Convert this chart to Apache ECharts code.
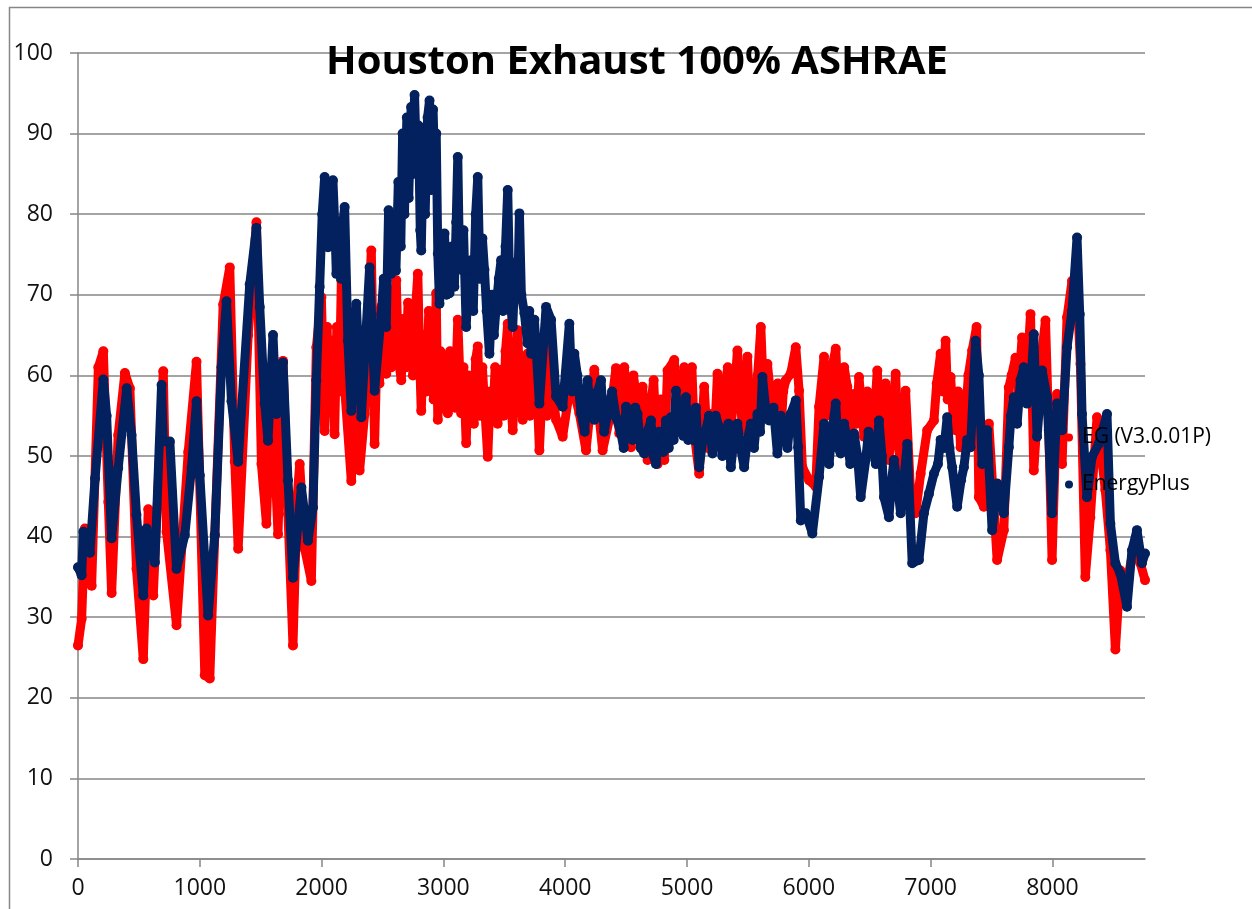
<!DOCTYPE html>
<html>
<head>
<meta charset="utf-8">
<script src="https://cdn.jsdelivr.net/npm/echarts@6/dist/echarts.min.js"></script>
<style>html,body{margin:0;padding:0;background:#fff}#c{width:1252px;height:909px}</style>
</head>
<body>
<div id="c"></div>
<script>
const TITLE = 'Houston Exhaust 100% ASHRAE';
const SERIES_NAMES = ['EG (V3.0.01P)', 'EnergyPlus'];
const X_TICKS = [0, 1000, 2000, 3000, 4000, 5000, 6000, 7000, 8000];

// [hour, value] readings for EG (V3.0.01P)
const EG_POINTS = [[0,26.5],[30,29.8],[57,41],[112,33.9],[167,61],[208,63],[249,44.3],[276,33],[330,52.6],[385,60.3],[426,58.4],[480,36],[536,24.8],[577,43.4],[618,32.7],[700,60.5],[727,40.6],[809,29],[905,50.5],[973,61.7],[1041,22.8],[1082,22.4],[1123,40.2],[1192,68.8],[1246,73.4],[1287,49.3],[1315,38.5],[1397,65],[1465,79],[1506,49],[1547,41.6],[1588,59.4],[1642,40.3],[1683,61.8],[1724,42.8],[1765,26.5],[1800,45],[1820,49],[1861,38.5],[1916,34.5],[1957,63.5],[1998,69.7],[2025,53.1],[2045,66],[2060,58],[2080,64.3],[2107,52.7],[2125,66],[2145,58],[2162,71.8],[2189,58.5],[2244,46.9],[2271,57.3],[2312,48.2],[2353,55.2],[2408,75.5],[2435,51.5],[2460,66],[2475,59],[2490,68.5],[2510,61],[2531,60.2],[2550,68],[2570,61],[2590,69],[2613,71.8],[2630,62],[2654,59.4],[2670,67],[2690,61],[2710,69],[2736,66.8],[2750,60],[2770,68],[2790,72.6],[2805,62],[2818,55.6],[2840,65],[2860,58],[2880,68],[2900,64.3],[2920,57],[2941,70.2],[2954,54.5],[2975,63],[2995,62.3],[3015,56],[3036,55.3],[3055,63],[3077,62.3],[3095,56],[3118,66.9],[3146,55.3],[3165,61],[3187,51.6],[3205,60],[3228,58.6],[3250,54],[3265,62],[3282,63.6],[3300,55],[3320,61],[3337,56.5],[3364,49.9],[3385,58],[3405,54.5],[3425,61],[3445,54],[3474,60.7],[3495,55],[3510,63],[3528,66.4],[3550,58],[3569,53.2],[3590,60],[3610,65.6],[3630,57],[3651,54.5],[3670,60],[3692,62.7],[3710,55],[3733,57.8],[3760,62],[3788,50.7],[3810,58],[3829,60.2],[3850,55],[3870,64.4],[3895,58],[3925,54.5],[3979,52.4],[4048,59.4],[4116,55.3],[4171,50.7],[4239,60.7],[4307,50.7],[4362,54.5],[4417,60.9],[4444,52.8],[4465,56],[4485,61],[4540,51.1],[4560,60],[4581,57.7],[4610,52],[4635,58.6],[4676,49.5],[4700,56],[4726,59.4],[4758,49],[4785,57],[4813,49.5],[4840,60.6],[4895,61.9],[4915,57],[4936,53.2],[4955,58],[4977,61],[5018,57.7],[5040,61],[5059,52.8],[5100,47.8],[5141,58.6],[5170,51],[5196,55.2],[5225,52],[5250,60.2],[5280,53],[5305,58.1],[5335,61],[5360,53.6],[5390,58],[5414,63.1],[5455,53.2],[5475,58],[5496,62.3],[5525,52],[5551,56.1],[5580,60],[5606,66],[5635,55],[5660,61.4],[5690,57],[5715,56.1],[5745,59],[5770,52.8],[5790,58],[5811,59.4],[5851,60.2],[5893,63.5],[5920,58.1],[5947,48.6],[6002,47],[6057,46.2],[6084,56.1],[6125,62.3],[6140,55],[6166,56.9],[6190,61],[6221,63.3],[6240,57],[6262,54.4],[6290,61],[6316,58.6],[6340,53],[6371,57.7],[6390,54],[6412,59.8],[6453,52.4],[6480,58],[6508,57.3],[6530,53],[6562,60.6],[6580,55],[6603,53.2],[6630,59],[6658,49.5],[6690,56],[6713,60.2],[6730,52],[6754,48.6],[6775,55],[6794,58.1],[6836,45.3],[6877,42.9],[6918,47.8],[6972,53.2],[7027,54.4],[7050,59],[7082,62.7],[7100,58],[7123,64.3],[7140,57],[7164,59.8],[7185,55],[7205,53.2],[7225,58],[7246,51.1],[7287,55.2],[7310,60],[7341,63.1],[7377,66],[7396,44.9],[7437,43.7],[7478,54],[7546,37.1],[7601,40.8],[7642,58.5],[7665,60],[7697,62.2],[7720,58],[7751,64.7],[7790,60],[7820,67.6],[7847,48.2],[7902,61.4],[7943,66.8],[7970,53.2],[7997,37.1],[8038,57.7],[8079,49],[8120,67.2],[8161,71.7],[8202,70.5],[8230,61.4],[8270,35],[8311,42.4],[8366,54.8],[8434,45.8],[8476,38.3],[8517,26],[8558,35.8],[8612,34.2],[8667,38.7],[8722,36.7],[8760,34.6]];

// [hour, value] readings for EnergyPlus
const EP_POINTS = [[0,36.2],[30,35.2],[44,40.6],[98,38],[140,47.2],[208,59.5],[235,55],[276,39.8],[330,48.5],[400,58.4],[440,52.6],[480,42.7],[536,32.7],[563,41],[631,36.8],[686,58.8],[700,51.8],[754,51.8],[809,36],[877,40.2],[932,48.5],[973,56.8],[1000,47.6],[1068,30.2],[1123,40.2],[1178,61],[1219,69.2],[1260,56.8],[1315,49.3],[1410,71.3],[1465,78.3],[1492,68.5],[1533,56.5],[1560,51.9],[1601,65],[1629,55.2],[1683,61.6],[1724,47],[1765,34.9],[1834,46.1],[1888,39.5],[1929,43.6],[1957,59.4],[1984,71],[2005,80],[2025,84.6],[2040,78],[2052,75.9],[2070,82],[2093,84.2],[2110,78],[2121,72.6],[2140,76],[2160,72],[2175,79],[2189,80.9],[2216,64.3],[2244,55.6],[2285,68.9],[2326,54.8],[2394,73.4],[2435,58.1],[2490,67.6],[2510,72],[2530,66],[2550,80.5],[2570,72.6],[2590,78],[2610,73],[2630,84],[2650,76],[2665,90],[2680,80],[2700,92],[2715,82],[2735,93.3],[2750,85],[2763,94.8],[2780,86],[2795,91],[2810,78],[2818,75.5],[2835,88],[2850,80],[2870,92],[2886,94.1],[2900,83],[2915,93],[2930,85],[2941,90],[2954,75.1],[2968,68.9],[2990,76],[3009,77.6],[3025,70],[3040,75.5],[3050,70.2],[3070,76],[3090,71],[3105,79],[3118,87.1],[3132,74],[3146,73.1],[3165,78],[3187,66],[3205,72],[3228,74.3],[3245,68],[3265,80],[3282,84.6],[3300,72],[3320,77],[3337,73.1],[3355,68],[3378,62.7],[3400,70],[3415,65],[3433,68.5],[3455,72],[3474,74.3],[3490,68],[3510,76],[3528,83],[3545,70],[3569,66],[3590,74],[3610,70],[3624,80.1],[3640,70],[3665,67.7],[3690,64],[3705,68],[3720,62.7],[3747,66.9],[3788,56.5],[3843,68.5],[3884,66.9],[3925,57.4],[3979,56.1],[4034,66.4],[4055,58],[4075,62.7],[4100,60],[4130,55.3],[4160,53],[4184,59.4],[4210,55],[4239,54.5],[4265,58],[4294,59.4],[4320,53],[4348,55.3],[4385,58],[4417,54.8],[4458,52.8],[4480,51],[4499,56.1],[4525,53],[4553,52],[4575,56],[4594,55.2],[4620,51],[4649,50.3],[4675,53],[4704,54.4],[4725,50],[4745,49],[4770,53],[4786,52],[4805,50.5],[4827,54.4],[4850,51],[4868,54.8],[4890,52],[4909,58.1],[4930,53],[4950,54.4],[4970,52.5],[4991,57.3],[5010,52],[5032,54.4],[5050,52],[5073,56],[5100,48.6],[5130,52],[5155,53.2],[5180,55],[5209,50.3],[5235,55],[5264,53.6],[5290,50],[5318,52],[5340,54],[5360,48.6],[5385,52],[5414,54],[5440,51],[5469,48.6],[5495,52],[5524,54],[5550,51],[5578,55.2],[5600,53],[5619,59.8],[5645,56],[5674,54.4],[5710,56],[5742,50.3],[5770,55],[5797,53.2],[5825,51],[5851,55.2],[5893,56.9],[5912,51.1],[5934,42],[5975,42.9],[6029,40.4],[6084,47.4],[6125,54],[6145,50],[6166,49],[6190,53],[6221,56.5],[6240,51],[6262,50.3],[6290,54],[6316,52],[6340,49],[6371,52.8],[6400,50],[6426,44.9],[6467,49.5],[6490,53],[6521,52],[6550,49],[6576,54.4],[6600,50],[6617,44.9],[6658,42.4],[6680,47],[6699,49.5],[6730,46],[6754,42.9],[6780,47],[6808,51.5],[6849,36.7],[6904,37.1],[6945,42.9],[6986,45.3],[7027,47.8],[7060,49],[7082,52],[7110,51],[7136,54.8],[7155,51],[7177,48.6],[7218,43.7],[7250,47],[7273,48.6],[7300,52],[7328,51.1],[7369,64.3],[7396,60],[7423,49],[7464,53.2],[7505,40.8],[7546,46.6],[7601,42.9],[7642,51.1],[7660,55],[7683,57.3],[7710,54],[7738,59.4],[7765,61],[7792,56.5],[7820,58],[7847,65.1],[7874,52.4],[7915,60.6],[7956,57.3],[7997,42.9],[8038,56.5],[8079,53.2],[8120,63.5],[8161,68],[8202,77.1],[8224,67.6],[8243,55.2],[8284,44.9],[8325,49.9],[8380,51.5],[8448,55.2],[8476,41.6],[8517,36.7],[8558,35.4],[8612,31.3],[8653,38.3],[8694,40.8],[8735,36.7],[8760,37.9]];

const chart = echarts.init(document.getElementById('c'), null, {renderer: 'canvas'});
const FONT = '"Open Sans", "Liberation Sans", sans-serif';
const AXIS_COLOR = '#868686';

chart.setOption({
  backgroundColor: '#ffffff',
  animation: false,
  title: {
    text: TITLE,
    left: 632, top: 38, textAlign: 'center',
    textStyle: {fontFamily: FONT, fontWeight: 'bold', fontSize: 40, color: '#000'}
  },
  graphic: [{
    type: 'rect', silent: true, z: 0,
    shape: {x: 9.5, y: 7.5, width: 1400, height: 1100},
    style: {fill: 'none', stroke: AXIS_COLOR, lineWidth: 1.5}
  }],
  legend: {
    orient: 'vertical', left: 1060, top: 422, itemGap: 26,
    icon: 'circle', itemWidth: 8, itemHeight: 8,
    textStyle: {fontFamily: FONT, fontSize: 21, color: '#000', padding: [0, 0, 0, 4]},
    data: SERIES_NAMES
  },
  grid: {left: 78, right: 107, top: 53, bottom: 50, containLabel: false},
  xAxis: {
    type: 'value', min: 0, max: 8760, interval: 1000,
    axisLine: {show: true, lineStyle: {color: AXIS_COLOR, width: 1.5}},
    axisTick: {show: true, length: 8, inside: false, customValues: X_TICKS, lineStyle: {color: AXIS_COLOR, width: 1.5}},
    axisLabel: {customValues: X_TICKS, formatter: v => String(v), fontFamily: FONT, fontSize: 23, color: '#111', margin: 18},
    splitLine: {show: false}
  },
  yAxis: {
    type: 'value', min: 0, max: 100, interval: 10,
    axisLine: {show: true, lineStyle: {color: AXIS_COLOR, width: 1.5}},
    axisTick: {show: true, length: 8, inside: false, lineStyle: {color: AXIS_COLOR, width: 1.5}},
    axisLabel: {formatter: v => String(v), fontFamily: FONT, fontSize: 23, color: '#111', margin: 25},
    splitLine: {show: true, lineStyle: {color: AXIS_COLOR, width: 1.5}}
  },
  series: [
    {
      name: SERIES_NAMES[0], type: 'line', data: EG_POINTS,
      symbol: 'circle', symbolSize: 10, showSymbol: true,
      itemStyle: {color: '#ff0000'},
      lineStyle: {color: '#ff0000', width: 9, cap: 'round', join: 'round'},
      z: 2
    },
    {
      name: SERIES_NAMES[1], type: 'line', data: EP_POINTS,
      symbol: 'circle', symbolSize: 10, showSymbol: true,
      itemStyle: {color: '#03215e'},
      lineStyle: {color: '#03215e', width: 9, cap: 'round', join: 'round'},
      z: 3
    }
  ]
});
</script>
</body>
</html>
